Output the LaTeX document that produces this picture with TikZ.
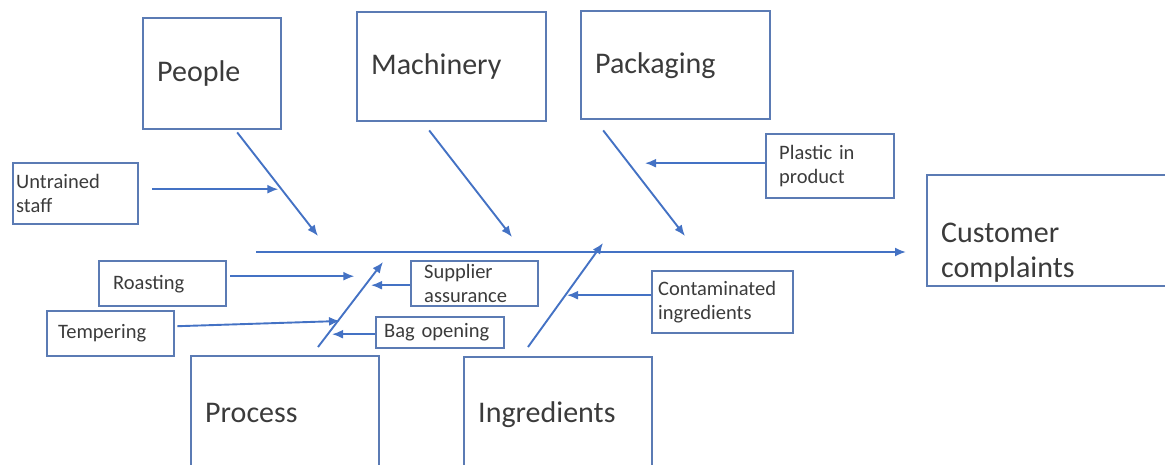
\documentclass[tikz,border=0pt]{standalone}
\usepackage{fontspec}
\setmainfont{Carlito}
\usetikzlibrary{arrows.meta,positioning}
\definecolor{boxblue}{HTML}{5B7BB4}
\definecolor{lineblue}{HTML}{4472C4}
\definecolor{txtgray}{HTML}{3B3B3B}
\tikzset{
  cause/.style={draw=boxblue, line width=2.4pt, anchor=north west, align=left,
    inner xsep=14pt, inner ysep=0pt, text=txtgray, font=\fontsize{30}{35}\selectfont},
  subcause/.style={cause, font=\fontsize{20.5}{24}\selectfont},
  bone/.style={draw=lineblue, line width=1.9pt, -{Latex[length=11pt,width=9pt]}},
}
\begin{document}
\begin{tikzpicture}[x=1pt,y=-1pt]
    \useasboundingbox (0,0) rectangle (1165,464);
    \clip (0,0) rectangle (1165,464);

    % main causes
    \node[cause, minimum width=138pt, minimum height=111pt, text width=110pt] (people) at (142,17) {People};
    \node[cause, minimum width=189pt, minimum height=109pt, text width=161pt] (machinery) at (356,11) {Machinery};
    \node[cause, minimum width=189pt, minimum height=108pt, text width=161pt] (packaging) at (580,10) {Packaging};
    \node[cause, minimum width=188pt, minimum height=114pt, text width=160pt] (process) at (190,355) {Process};
    \node[cause, minimum width=188pt, minimum height=114pt, text width=160pt] (ingredients) at (463,356) {Ingredients};
    \node[cause, minimum width=260pt, minimum height=111pt, text width=232pt] (customer) at (926,174) {\rule{0pt}{63pt}Customer\\complaints};

    % sub causes
    \node[subcause, inner xsep=3pt, minimum width=125pt, minimum height=61pt, text width=119pt] (untrained) at (12,162) {Untrained\\staff};
    \node[subcause, minimum width=127pt, minimum height=45pt, text width=99pt] (roasting) at (98,260) {Roasting};
    \node[subcause, inner xsep=11pt, minimum width=127pt, minimum height=45pt, text width=105pt] (tempering) at (46,310) {Tempering};
    \node[subcause, inner xsep=13pt, minimum width=127pt, minimum height=45pt, text width=101pt] (supplier) at (410,260) {Supplier\\assurance};
    \node[subcause, inner xsep=8pt, minimum width=128pt, minimum height=31pt, text width=112pt] (bagopen) at (375,316) {Bag opening};
    \node[subcause, inner xsep=6pt, minimum width=141pt, minimum height=62pt, text width=129pt] (contam) at (651,270) {Contaminated\\ingredients};
    \node[subcause, inner xsep=13pt, minimum width=128pt, minimum height=64pt, text width=102pt] (plastic) at (765,133) {Plastic in\\product};

    % spine
    \coordinate (tail) at (256,252);
    \draw[bone] (tail) -- ([xshift=-20pt]customer.west |- tail) coordinate (head);

    % bones
    \coordinate (peB) at (318,236);
    \coordinate (maB) at (512,237);
    \coordinate (paB) at (685,236);
    \coordinate (prB) at (383,262);
    \coordinate (inB) at (603,243);
    \draw[bone] ([xshift=25pt,yshift=-2pt]people.south) -- (peB);
    \draw[bone] ([xshift=-22.5pt,yshift=-8pt]machinery.south) -- (maB);
    \draw[bone] ([xshift=-72.5pt,yshift=-10pt]packaging.south) -- (paB);
    \draw[bone] ([xshift=128pt,yshift=8pt]process.north west) -- (prB);
    \draw[bone] ([xshift=65pt,yshift=9pt]ingredients.north west) -- (inB);

    % arrows onto the bones
    \draw[bone] ([xshift=13pt,yshift=4.5pt]untrained.east) -- ++(126,0);
    \draw[bone] ([xshift=3pt,yshift=7.5pt]roasting.east) -- ++(124,0);
    \draw[bone] ([xshift=2pt,yshift=7.5pt]tempering.east) -- (340,321);
    \draw[bone] ([yshift=-1.5pt]supplier.west) -- ++(-39,0);
    \draw[bone] ([yshift=-1.5pt]bagopen.west) -- ++(-43,0);
    \draw[bone] ([yshift=7pt]contam.west) -- ++(-84,0);
    \draw[bone] ([yshift=3pt]plastic.west) -- ++(-120,0);

  \end{tikzpicture}
\end{document}
